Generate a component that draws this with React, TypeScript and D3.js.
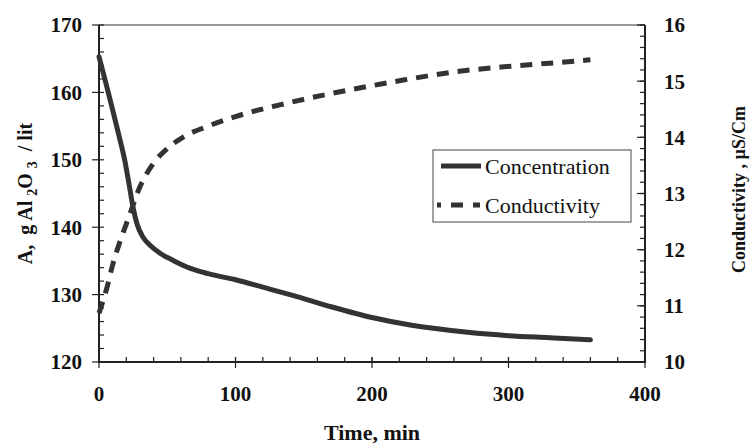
import * as d3 from 'd3';
import { useEffect, useRef } from 'react';

// Concentration series (time in min, A in g Al2O3 / lit)
const concTime = [0, 5, 10, 15, 19, 22, 25, 28, 32, 38, 45, 55, 67, 80, 100, 120, 145, 170, 200, 225, 245, 270, 300, 330, 360];
const concValues = [165.3, 161.4, 157.4, 153.3, 149.8, 146.4, 142.9, 140.4, 138.6, 137.2, 136.1, 135, 133.9, 133.1, 132.2, 131.1, 129.7, 128.2, 126.6, 125.6, 125, 124.4, 123.9, 123.6, 123.3];

// Conductivity series (time in min, µS/Cm)
const condTime = [0, 6, 10, 15, 22, 30, 40, 50, 62, 79, 100, 138, 189, 223, 262, 299, 330, 360];
const condValues = [10.87, 11.34, 11.73, 12.12, 12.59, 13.12, 13.54, 13.8, 14.01, 14.19, 14.37, 14.61, 14.87, 15.02, 15.17, 15.26, 15.32, 15.38];

const xTicks = [0, 100, 200, 300, 400];
const leftTicks = [120, 130, 140, 150, 160, 170];
const rightTicks = [10, 11, 12, 13, 14, 15, 16];
const legendLabels = ['Concentration', 'Conductivity'];

const FONT = "'Liberation Serif', 'Times New Roman', serif";
const INK = '#333';

export default function App() {
  const ref = useRef<SVGSVGElement | null>(null);

  useEffect(() => {
    if (!ref.current) return;
    const svg = d3.select(ref.current);
    svg.selectAll('*').remove();

    const left = 99, right = 645, top = 25, bottom = 362;

    const x = d3.scaleLinear().domain([0, 400]).range([left, right]);
    const yL = d3.scaleLinear().domain([120, 170]).range([bottom, top]);
    const yR = d3.scaleLinear().domain([10, 16]).range([bottom, top]);

    // top frame line (gray)
    svg.append('line')
      .attr('x1', left).attr('x2', right).attr('y1', top).attr('y2', top)
      .attr('stroke', '#999').attr('stroke-width', 2);

    // minor ticks (inside)
    const g = svg.append('g').attr('stroke', '#222').attr('stroke-width', 1.2);
    d3.range(120, 170.01, 2).forEach((v) => {
      g.append('line').attr('x1', left).attr('x2', left + 5).attr('y1', yL(v)).attr('y2', yL(v));
    });
    d3.range(0, 400.01, 20).forEach((v) => {
      g.append('line').attr('x1', x(v)).attr('x2', x(v)).attr('y1', bottom).attr('y2', bottom - 5);
    });
    d3.range(10, 16.01, 0.2).forEach((v) => {
      g.append('line').attr('x1', right).attr('x2', right - 5).attr('y1', yR(v)).attr('y2', yR(v));
    });
    // major ticks
    leftTicks.forEach((v) => {
      g.append('line').attr('x1', left - 7).attr('x2', left).attr('y1', yL(v)).attr('y2', yL(v));
    });
    xTicks.forEach((v) => {
      g.append('line').attr('x1', x(v)).attr('x2', x(v)).attr('y1', bottom - 5).attr('y2', bottom + 6);
    });
    rightTicks.forEach((v) => {
      g.append('line').attr('x1', right - 8).attr('x2', right).attr('y1', yR(v)).attr('y2', yR(v));
    });

    // axis lines
    svg.append('path')
      .attr('d', `M${left},${top}V${bottom}H${right}V${top}`)
      .attr('fill', 'none').attr('stroke', '#222').attr('stroke-width', 2);

    // tick labels
    const lab = svg.append('g').attr('font-family', FONT).attr('font-weight', 'bold')
      .attr('font-size', 21).attr('fill', '#111');
    leftTicks.forEach((v) => {
      lab.append('text').attr('x', left - 17).attr('y', yL(v)).attr('dy', '0.35em')
        .attr('text-anchor', 'end').text(v);
    });
    rightTicks.forEach((v) => {
      lab.append('text').attr('x', right + 19).attr('y', yR(v)).attr('dy', '0.35em')
        .attr('text-anchor', 'start').text(v);
    });
    xTicks.forEach((v) => {
      lab.append('text').attr('x', x(v)).attr('y', 401)
        .attr('text-anchor', 'middle').text(v);
    });

    // axis titles
    svg.append('text')
      .attr('x', (left + right) / 2).attr('y', 440)
      .attr('text-anchor', 'middle').attr('font-family', FONT).attr('font-weight', 'bold')
      .attr('font-size', 22).attr('fill', '#111').text('Time, min');

    const yt = svg.append('text')
      .attr('transform', `translate(32,${(top + bottom) / 2}) rotate(-90)`)
      .attr('text-anchor', 'middle').attr('font-family', FONT).attr('font-weight', 'bold')
      .attr('font-size', 20).attr('fill', '#111')
      .style('white-space', 'pre');
    yt.append('tspan').text('A,  g Al ');
    yt.append('tspan').attr('font-size', 14).attr('dy', 5).text('2');
    yt.append('tspan').attr('dy', -5).text('O ');
    yt.append('tspan').attr('font-size', 14).attr('dy', 5).text('3');
    yt.append('tspan').attr('dy', -5).text('  / lit');

    svg.append('text')
      .attr('transform', `translate(745,${(top + bottom) / 2 - 4}) rotate(-90)`)
      .attr('text-anchor', 'middle').attr('font-family', FONT).attr('font-weight', 'bold')
      .attr('font-size', 18).attr('fill', '#111').style('white-space', 'pre')
      .text('Conductivity , µS/Cm');

    // series
    const concLine = d3.line<number>()
      .x((_, i) => x(concTime[i]))
      .y((d) => yL(d))
      .curve(d3.curveMonotoneX);
    const condLine = d3.line<number>()
      .x((_, i) => x(condTime[i]))
      .y((d) => yR(d))
      .curve(d3.curveMonotoneX);

    svg.append('path').attr('d', condLine(condValues))
      .attr('fill', 'none').attr('stroke', INK).attr('stroke-width', 5)
      .attr('stroke-dasharray', '12 9');
    svg.append('path').attr('d', concLine(concValues))
      .attr('fill', 'none').attr('stroke', INK).attr('stroke-width', 5)
      .attr('stroke-linecap', 'round');

    // legend
    const lg = svg.append('g');
    lg.append('rect').attr('x', 433).attr('y', 150).attr('width', 198).attr('height', 72)
      .attr('fill', '#fff').attr('stroke', '#444').attr('stroke-width', 1);
    const rows = [166, 205];
    lg.append('line').attr('x1', 441).attr('x2', 481).attr('y1', rows[0]).attr('y2', rows[0])
      .attr('stroke', INK).attr('stroke-width', 5);
    lg.append('line').attr('x1', 437).attr('x2', 480).attr('y1', rows[1]).attr('y2', rows[1])
      .attr('stroke', INK).attr('stroke-width', 5).attr('stroke-dasharray', '12 10')
      .attr('stroke-dashoffset', 8);
    legendLabels.forEach((t, i) => {
      lg.append('text').attr('x', 485).attr('y', rows[i]).attr('dy', '0.35em')
        .attr('font-family', FONT).attr('font-size', 22).attr('fill', '#111').text(t);
    });
  }, []);

  return (
    <svg
      ref={ref}
      width={750}
      height={447}
      style={{ position: 'absolute', left: 0, top: 0, background: '#fff' }}
    />
  );
}
